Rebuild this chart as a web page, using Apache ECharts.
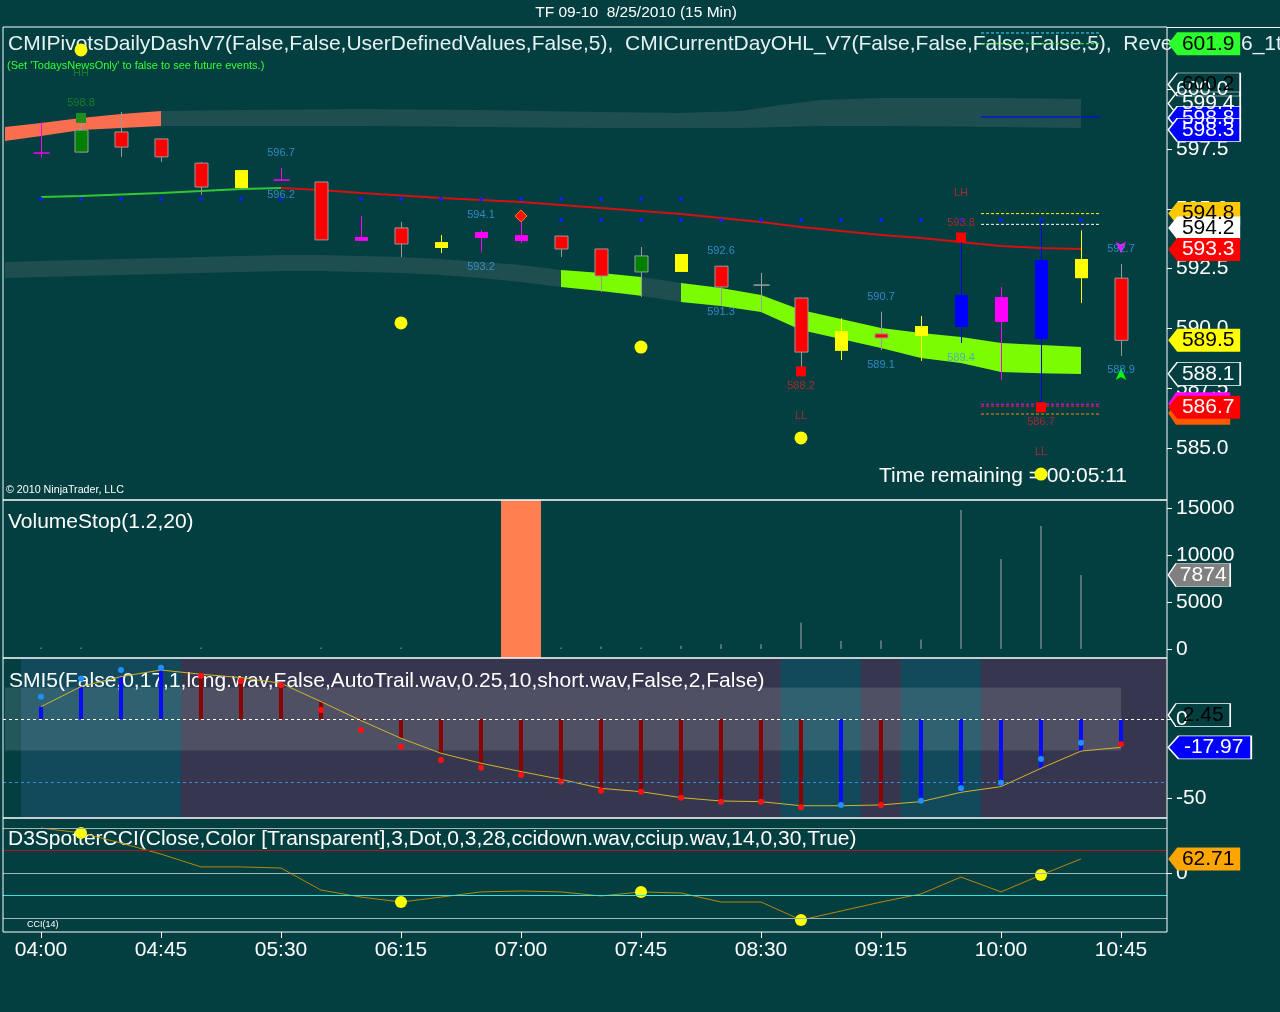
<!DOCTYPE html>
<html>
<head>
<meta charset="utf-8">
<title>TF 09-10 8/25/2010 (15 Min)</title>
<script src="https://cdn.jsdelivr.net/npm/echarts@6.0.0/dist/echarts.min.js"></script>
<style>
  html, body { margin: 0; padding: 0; background: #033f41; }
  #main { width: 1280px; height: 1012px; }
</style>
</head>
<body>
<div id="main"></div>
<script>
// 15 min bars
var times = ['04:00','04:15','04:30','04:45','05:00','05:15','05:30','05:45','06:00','06:15','06:30','06:45','07:00','07:15',
             '07:30','07:45','08:00','08:15','08:30','08:45','09:00','09:15','09:30','09:45','10:00','10:15','10:30','10:45'];
var timeLabelIdx = [0, 3, 6, 9, 12, 15, 18, 21, 24, 27];

// candles
var opens  = [597.33,597.37,598.21,597.92,596.91,596.62,596.20,596.12,593.82,594.20,593.61,594.03,593.90,593.86,
              593.32,592.36,593.11,592.60,591.81,591.27,589.89,589.77,590.10,590.06,591.31,589.56,592.90,592.10];
var highs  = [598.60,598.80,599.05,597.92,596.95,596.62,596.70,596.12,594.70,594.45,593.90,594.10,594.53,593.86,
              593.32,593.40,593.11,592.60,592.32,591.27,590.43,590.70,590.52,593.80,591.73,594.53,594.10,592.69];
var lows   = [597.15,597.35,597.17,596.96,595.58,595.87,596.20,593.70,593.66,592.98,593.15,593.20,593.57,592.98,
              591.52,591.31,592.36,590.95,590.69,588.20,588.68,589.10,588.64,589.39,587.84,586.70,591.06,588.85];
var closes = [597.33,598.29,597.58,597.17,595.91,595.87,596.20,593.70,593.66,593.53,593.36,593.78,593.65,593.32,
              592.19,593.03,592.36,591.73,591.81,589.01,589.06,589.60,589.68,591.40,590.27,592.86,592.10,589.50];
var candleKeys = ['m','g','r','r','r','y','m','r','m','r','y','m','m','r','r','g','y','r','x','r','y','r','y','b','m','b','y','r'];

// moving average line (green then red)
var maLine = [595.49,595.54,595.60,595.66,595.74,595.83,595.87,595.79,595.66,595.56,595.45,595.37,595.28,595.16,
              595.03,594.91,594.78,594.62,594.45,594.24,594.07,593.90,593.78,593.61,593.44,593.36,593.32];
var maGreenEnd = 6;

// upper band (salmon then gray)
var upSalmonX   = [-0.9, 0, 1, 2, 3];
var upSalmonTop = [598.42, 598.59, 598.80, 598.96, 599.09];
var upSalmonBot = [597.83, 598.04, 598.29, 598.38, 598.46];
var upGrayX   = [3, 5, 8, 11, 14, 16, 17.5, 18.5, 19.5, 21, 24, 26];
var upGrayTop = [599.09, 599.13, 599.17, 599.13, 599.05, 599.00, 599.09, 599.34, 599.55, 599.63, 599.63, 599.59];
var upGrayBot = [598.46, 598.46, 598.46, 598.42, 598.38, 598.38, 598.38, 598.42, 598.46, 598.46, 598.42, 598.38];

// lower band (gray with green runs)
var lowX   = [-0.9,0,1,2,3,4,5,6,7,8,9,10,11,12,13,14,15,16,17,18,19,20,21,22,23,24,25,26];
var lowTop = [592.78,592.82,592.86,592.90,592.94,592.98,593.03,593.07,593.07,593.03,592.98,592.90,592.78,592.65,
              592.44,592.32,592.15,591.90,591.69,591.40,590.77,590.39,590.02,589.81,589.64,589.39,589.31,589.22];
var lowBot = [592.11,592.15,592.19,592.23,592.27,592.32,592.36,592.40,592.40,592.36,592.32,592.23,592.11,591.94,
              591.73,591.56,591.36,591.10,590.94,590.69,589.93,589.56,589.18,588.76,588.55,588.18,588.13,588.09];
var greenRuns = [[13, 15], [16, 26]];

// pivot dot rows
var pivotRows = [[0, 16, 595.41], [12, 26, 594.53]];
// swing dots (yellow)
var swingDots = [[1, 601.64], [9, 590.23], [15, 589.22], [19, 585.42], [25, 583.91]];
// swing labels: idx, value, text, side (-1/-2 above, 1/2 below)
var blueLabels = [[6,596.7,'596.7',-1],[6,596.2,'596.2',1],[11,594.1,'594.1',-1],[11,593.2,'593.2',1],
                  [17,592.6,'592.6',-1],[17,591.3,'591.3',1],[21,590.7,'590.7',-1],[21,589.1,'589.1',1],
                  [23,589.4,'589.4',1],[27,592.7,'592.7',-1],[27,588.9,'588.9',1]];
var redLabels = [[19,588.2,'588.2',1],[19,588.2,'LL',2],[23,593.8,'593.8',-1],[23,593.8,'LH',-2],
                 [25,586.7,'586.7',1],[25,586.7,'LL',2]];
var greenLabels = [[1,598.8,'598.8',-1],[1,598.8,'HH',-2]];
var squareMarks = [[1,598.8,'#1e8c1e'],[19,588.2,'#ff0000'],[23,593.8,'#ff0000'],[25,586.7,'#ff0000']];
var diamondMarks = [[12,594.7,'#ff1010']];
var arrowMarks = [[27,593.13,'#ff00ff',180],[27,588.34,'#00ff00',0]];

// current day levels (right side)
var levelX = [23.5, 26.48];
var levelLines = [[602.35,'#40e0ff','dashed'],[601.9,'#33ff33','dashed'],[598.84,'#0000ff','solid'],
                  [594.8,'#ffff00','dashed'],[594.35,'#ffffff','dashed'],[586.83,'#ff00ff','dashed'],
                  [586.75,'#ff2020','dashed'],[586.42,'#ff8c00','dashed']];

// price tags: value, text, fill, text color, border
var priceTags = [[601.9,'601.9','#2cff2c','#000000'],
                 [600.2,'600.2','rgba(0,0,0,0)','#000000','#ffffff'],
                 [599.4,'599.4','rgba(0,0,0,0)','#ffffff','#ffffff'],
                 [598.8,'598.8','#0000ff','#ffffff','#ffffff'],
                 [598.3,'598.3','#0000ff','#ffffff','#ffffff'],
                 [594.8,'594.8','#ffc800','#000000'],
                 [594.2,'594.2','#ffffff','#000000'],
                 [593.3,'593.3','#ff0000','#ffffff'],
                 [589.5,'589.5','#ffff00','#000000'],
                 [588.1,'588.1','#033f41','#ffffff','#ffffff'],
                 [586.45,'','#ff5a00','#000000'],
                 [586.85,'','#ff00ff','#000000'],
                 [586.7,'586.7','#ff0000','#ffffff']];
var priceTicks = [585, 587.5, 590, 592.5, 595, 597.5, 600];

// volume
var volumes = [150,150,0,0,150,0,0,150,0,150,0,0,18000,150,250,150,350,500,500,2800,850,900,1000,14800,9570,13080,7874,0];
var volStopIdx = [12];
var volTags = [[7874,'7874','#808080','#ffffff','#ffffff']];
var volTicks = [0, 5000, 10000, 15000];

// SMI
var smiSignal = [7.8,20.5,26.8,31,28.3,26.2,22.6,11,-1,-12.2,-21.7,-28,-33.3,-38.2,-43.9,-46,-49.8,-51.9,-52.3,
                 -54.9,-54.9,-54.4,-52.3,-46.4,-42.8,-31.2,-20.3,-17.97];
var smiValue = [14.1,25.7,31,32.5,27.4,24,21.5,5.7,-7,-17.5,-26,-30.8,-35.4,-39.7,-45.4,-46,-49.8,-52.3,-52.3,
                -55.9,-54.4,-54.4,-51.7,-43.9,-40.3,-25.3,-15,-16];
var smiBarKeys = ['b','b','b','b','r','r','r','r','r','r','r','r','r','r','r','r','r','r','r','r','b','r','b','b','b','b','b','b'];
var smiDotKeys = ['b','b','b','b','r','r','r','r','r','r','r','r','r','r','r','r','r','r','r','r','b','r','b','b','b','b','b','r'];
var smiZones = ['t','t','t','t','p','p','p','p','p','p','p','p','p','p','p','p','p','p','p','t','t','p','t','t','p','p','p','p'];
var smiBand = [-20, 20];
var smiBandX = [-0.9, 27];
var smiLevels = [[0,'#ffffff'],[-40,'#3a8fd8']];
var smiTags = [[2.45,'2.45','rgba(0,0,0,0)','#000000','#ffffff'],[-17.97,'-17.97','#0000ff','#ffffff','#ffffff']];
var smiTicks = [0, -50];

// CCI
var cci = [200,178,133,84,27,27,22,-76,-107,-129,-107,-84,-80,-84,-102,-84,-89,-129,-129,-209,-169,-129,-93,-18,-84,-9,62.71];
var cciDotIdx = [1, 9, 15, 19, 25];
var cciLevels = [[200,'#a0b4b4'],[100,'#b01818'],[0,'#a0b4b4'],[-100,'#40e0e0'],[-200,'#a0b4b4']];
var cciTags = [[62.71,'62.71','#ffa500','#000000']];
var cciTicks = [0];

// ---------------------------------------------------------------
var FONT = '"Liberation Sans", Arial, sans-serif';
var X_MIN = -0.95, X_MAX = 28.15;
var PRICE_MIN = 582.826, PRICE_MAX = 602.6;
var VOL_MIN = -957, VOL_MAX = 15851;
var SMI_MIN = -62.66, SMI_MAX = 38.6;
var CCI_MIN = -262.2, CCI_MAX = 244.4;
var CANDLE = {m:'#ff00ff', g:'#008000', r:'#ff0000', y:'#ffff00', b:'#0000ff', x:'#a0a0a0'};

var chart = echarts.init(document.getElementById('main'));

function grid(top, height) {
  return {left: 3, width: 1164, top: top, height: height, show: true, borderColor: '#ffffff', borderWidth: 1,
          backgroundColor: 'transparent', z: 10, outerBoundsMode: 'none', containLabel: false};
}
function xAx(gi, show) {
  return {type: 'value', gridIndex: gi, min: X_MIN, max: X_MAX, show: show, position: 'bottom',
    axisLine: {show: false, onZero: false}, splitLine: {show: false},
    axisTick: {show: show, length: 6, lineStyle: {color: '#ffffff'}, customValues: timeLabelIdx},
    axisLabel: {show: show, customValues: timeLabelIdx, color: '#ffffff', fontSize: 21, fontFamily: FONT, margin: 8,
      formatter: function (v) { return times[Math.round(v)]; }}};
}
function yAx(gi, min, max, ticks, dec) {
  return {type: 'value', gridIndex: gi, position: 'right', min: min, max: max,
    axisLine: {show: false, onZero: false}, splitLine: {show: false},
    axisTick: {show: true, length: 5, lineStyle: {color: '#ffffff'}, customValues: ticks},
    axisLabel: {show: true, customValues: ticks, color: '#ffffff', fontSize: 21, fontFamily: FONT, margin: 9,
      formatter: function (v) { return v.toFixed(dec); }}};
}

// filled band between a top and bottom edge
function bandSeries(xs, tops, bots, color) {
  return {type: 'custom', xAxisIndex: 0, yAxisIndex: 0, z: 1, silent: true,
    data: xs.map(function (x, i) { return [x, tops[i], bots[i]]; }),
    encode: {x: 0, y: [1, 2]},
    renderItem: function (params, api) {
      if (params.dataIndex !== 0) return null;
      var up = [], dn = [];
      for (var k = 0; k < xs.length; k++) {
        up.push(api.coord([xs[k], tops[k]]));
        dn.push(api.coord([xs[k], bots[k]]));
      }
      return {type: 'polygon', shape: {points: up.concat(dn.reverse())}, style: {fill: color}};
    }};
}

function tagSeries(gi, tags) {
  return {type: 'scatter', xAxisIndex: gi, yAxisIndex: gi, z: 12, clip: false, silent: true,
    data: tags.map(function (t) {
      var w = Math.max(62, 17 + 11 * t[1].length);
      return {value: [X_MAX + 0.03, t[0]], symbol: 'path://M0,11L9,0L72,0L72,22L9,22Z',
        symbolSize: [w, 23], symbolOffset: ['50%', 0],
        itemStyle: {color: t[2], opacity: 1, borderColor: t[4] || t[2], borderWidth: t[4] ? 1 : 0},
        label: {show: t[1] !== '', formatter: t[1], position: 'inside', offset: [4, 0], color: t[3],
                fontSize: 21, fontFamily: FONT}};
    })};
}

function labelSeries(list, color) {
  return {type: 'scatter', xAxisIndex: 0, yAxisIndex: 0, z: 6, silent: true, symbolSize: 1,
    itemStyle: {color: 'rgba(0,0,0,0)'},
    data: list.map(function (s) {
      var off = (Math.abs(s[3]) === 1 ? 15 : 45) * (s[3] < 0 ? -1 : 1);
      return {value: [s[0], s[1]], label: {show: true, formatter: s[2], position: 'inside', offset: [0, off],
              color: color, fontSize: 11, fontFamily: FONT}};
    })};
}

var series = [];

// ---- price panel
series.push(bandSeries(upSalmonX, upSalmonTop, upSalmonBot, '#fa6e50'));
series.push(bandSeries(upGrayX, upGrayTop, upGrayBot, '#1f4e50'));
series.push(bandSeries(lowX, lowTop, lowBot, '#1f4e50'));
greenRuns.forEach(function (run) {
  var xs = [], ts = [], bs = [];
  lowX.forEach(function (x, k) {
    if (x >= run[0] && x <= run[1]) { xs.push(x); ts.push(lowTop[k]); bs.push(lowBot[k]); }
  });
  series.push(bandSeries(xs, ts, bs, '#7cfc00'));
});

series.push({type: 'line', xAxisIndex: 0, yAxisIndex: 0, z: 2, silent: true, showSymbol: false,
  lineStyle: {color: '#33c633', width: 2},
  data: maLine.slice(0, maGreenEnd + 1).map(function (v, i) { return [i, v]; })});
series.push({type: 'line', xAxisIndex: 0, yAxisIndex: 0, z: 2, silent: true, showSymbol: false,
  lineStyle: {color: '#d41010', width: 2},
  data: maLine.slice(maGreenEnd).map(function (v, i) { return [i + maGreenEnd, v]; })});

var pivotData = [];
pivotRows.forEach(function (r) {
  for (var i = r[0]; i <= r[1]; i++) pivotData.push([i, r[2]]);
});
series.push({type: 'scatter', xAxisIndex: 0, yAxisIndex: 0, z: 3, silent: true, symbolSize: 4,
  itemStyle: {color: '#1a1aff', opacity: 1}, data: pivotData});

levelLines.forEach(function (lv) {
  series.push({type: 'line', xAxisIndex: 0, yAxisIndex: 0, z: 4, silent: true, showSymbol: false,
    lineStyle: {color: lv[1], width: 1, type: lv[2] === 'dashed' ? [3, 2] : 'solid'},
    data: levelX.map(function (x) { return [x, lv[0]]; })});
});

series.push({type: 'custom', xAxisIndex: 0, yAxisIndex: 0, z: 4, silent: true,
  data: opens.map(function (o, i) { return [i, o, highs[i], lows[i], closes[i]]; }),
  encode: {x: 0, y: [1, 2, 3, 4]},
  renderItem: function (params, api) {
    var key = candleKeys[params.dataIndex];
    var fill = CANDLE[key];
    var edge = (key === 'r' || key === 'g') ? '#9a9a9a' : fill;
    var x = api.value(0), o = api.value(1), h = api.value(2), l = api.value(3), c = api.value(4);
    var pH = api.coord([x, h]), pL = api.coord([x, l]), pO = api.coord([x, o]), pC = api.coord([x, c]);
    var cx = Math.round(pH[0]) + 0.5;
    var kids = [{type: 'line', shape: {x1: cx, y1: pH[1], x2: cx, y2: pL[1]}, style: {stroke: edge, lineWidth: 1}}];
    if (Math.abs(o - c) < 0.02) {
      kids.push({type: 'line', shape: {x1: cx - 8, y1: pO[1], x2: cx + 8, y2: pO[1]}, style: {stroke: fill, lineWidth: 1.5}});
    } else {
      var top = Math.min(pO[1], pC[1]);
      kids.push({type: 'rect', shape: {x: cx - 6.5, y: top, width: 13, height: Math.abs(pO[1] - pC[1])},
        style: {fill: fill, stroke: (key === 'r' || key === 'g') ? '#9a9a9a' : null, lineWidth: 1}});
    }
    return {type: 'group', children: kids};
  }});

series.push({type: 'scatter', xAxisIndex: 0, yAxisIndex: 0, z: 5, silent: true, symbolSize: 13,
  itemStyle: {color: '#ffff00', opacity: 1}, data: swingDots});
series.push({type: 'scatter', xAxisIndex: 0, yAxisIndex: 0, z: 5, silent: true, symbol: 'rect', symbolSize: 10,
  data: squareMarks.map(function (m) { return {value: [m[0], m[1]], itemStyle: {color: m[2], opacity: 1}}; })});
series.push({type: 'scatter', xAxisIndex: 0, yAxisIndex: 0, z: 5, silent: true, symbol: 'diamond', symbolSize: 12,
  data: diamondMarks.map(function (m) { return {value: [m[0], m[1]], itemStyle: {color: m[2], opacity: 1, borderColor: '#ff8000', borderWidth: 1}}; })});
series.push({type: 'scatter', xAxisIndex: 0, yAxisIndex: 0, z: 5, silent: true, symbol: 'arrow', symbolSize: [8, 12],
  data: arrowMarks.map(function (m) { return {value: [m[0], m[1]], symbolRotate: m[3], itemStyle: {color: m[2], opacity: 1}}; })});

series.push(labelSeries(blueLabels, '#3d9ce6'));
series.push(labelSeries(redLabels, '#d02030'));
series.push(labelSeries(greenLabels, '#1e8c1e'));
series.push(tagSeries(0, priceTags));

// ---- volume panel
series.push({type: 'custom', xAxisIndex: 1, yAxisIndex: 1, z: 1, silent: true,
  data: volStopIdx.map(function (i) { return [i, volumes[i]]; }),
  renderItem: function (params, api) {
    var i = api.value(0), v = api.value(1);
    var p0 = api.coord([i - 0.5, v]), p1 = api.coord([i + 0.5, VOL_MIN]);
    var cs = params.coordSys;
    var r = echarts.graphic.clipRectByRect({x: p0[0], y: p0[1], width: p1[0] - p0[0], height: p1[1] - p0[1]},
                                           {x: cs.x, y: cs.y, width: cs.width, height: cs.height});
    return r ? {type: 'rect', shape: r, style: {fill: '#ff7f50'}} : null;
  }});
series.push({type: 'bar', xAxisIndex: 1, yAxisIndex: 1, z: 2, silent: true, barWidth: 1,
  itemStyle: {color: '#a8a8a8'},
  data: volumes.map(function (v, i) { return volStopIdx.indexOf(i) >= 0 ? [i, 0] : [i, v]; })});
series.push(tagSeries(1, volTags));

// ---- SMI panel
series.push({type: 'custom', xAxisIndex: 2, yAxisIndex: 2, z: 0, silent: true,
  data: smiZones.map(function (k, i) { return [i, 0]; }),
  renderItem: function (params, api) {
    var i = params.dataIndex;
    var x1 = i === smiZones.length - 1 ? X_MAX : i + 0.5;
    var p0 = api.coord([i - 0.5, SMI_MAX]), p1 = api.coord([x1, SMI_MIN]);
    return {type: 'rect', shape: {x: p0[0], y: p0[1], width: p1[0] - p0[0], height: p1[1] - p0[1]},
      style: {fill: smiZones[i] === 't' ? '#124a5c' : '#36364f'}};
  }});
series.push({type: 'custom', xAxisIndex: 2, yAxisIndex: 2, z: 0, silent: true,
  data: [[smiBandX[0], smiBand[1]]],
  renderItem: function (params, api) {
    var p0 = api.coord([smiBandX[0], smiBand[1]]), p1 = api.coord([smiBandX[1], smiBand[0]]);
    return {type: 'rect', shape: {x: p0[0], y: p0[1], width: p1[0] - p0[0], height: p1[1] - p0[1]},
      style: {fill: 'rgba(255,255,255,0.13)'}};
  }});
series.push({type: 'bar', xAxisIndex: 2, yAxisIndex: 2, z: 2, silent: true, barWidth: 4,
  data: smiSignal.map(function (v, i) {
    return {value: [i, v], itemStyle: {color: smiBarKeys[i] === 'b' ? '#0a0aff' : '#8b0000'}};
  })});
series.push({type: 'line', xAxisIndex: 2, yAxisIndex: 2, z: 3, silent: true, showSymbol: false,
  lineStyle: {color: '#d2b42c', width: 1},
  data: smiSignal.map(function (v, i) { return [i, v]; }),
  markLine: {silent: true, symbol: ['none', 'none'], label: {show: false},
    data: smiLevels.map(function (l) { return {yAxis: l[0], lineStyle: {color: l[1], type: [3, 3], width: 1}}; })}});
series.push({type: 'scatter', xAxisIndex: 2, yAxisIndex: 2, z: 4, silent: true, symbolSize: 6,
  data: smiValue.map(function (v, i) {
    return {value: [i, v], itemStyle: {color: smiDotKeys[i] === 'b' ? '#1e90ff' : '#ff1010', opacity: 1}};
  })});
series.push(tagSeries(2, smiTags));

// ---- CCI panel
series.push({type: 'line', xAxisIndex: 3, yAxisIndex: 3, z: 3, silent: true, showSymbol: false,
  lineStyle: {color: '#b8860b', width: 1},
  data: cci.map(function (v, i) { return [i, v]; }),
  markLine: {silent: true, symbol: ['none', 'none'], label: {show: false},
    data: cciLevels.map(function (l) { return {yAxis: l[0], lineStyle: {color: l[1], type: 'solid', width: 1}}; })}});
series.push({type: 'scatter', xAxisIndex: 3, yAxisIndex: 3, z: 4, silent: true, symbolSize: 12,
  itemStyle: {color: '#ffff00', opacity: 1},
  data: cciDotIdx.map(function (i) { return [i, cci[i]]; })});
series.push(tagSeries(3, cciTags));

function txt(x, y, s, size, color, align) {
  return {type: 'text', x: x, y: y, z: 1, silent: true,
    style: {text: s, fill: color, fontSize: size, fontFamily: FONT, textAlign: align || 'left', textVerticalAlign: 'middle'}};
}

var option = {
  backgroundColor: '#033f41',
  animation: false,
  grid: [grid(27, 473), grid(500, 158), grid(658, 160), grid(818, 114)],
  xAxis: [xAx(0, false), xAx(1, false), xAx(2, false), xAx(3, true)],
  yAxis: [yAx(0, PRICE_MIN, PRICE_MAX, priceTicks, 1), yAx(1, VOL_MIN, VOL_MAX, volTicks, 0),
          yAx(2, SMI_MIN, SMI_MAX, smiTicks, 0), yAx(3, CCI_MIN, CCI_MAX, cciTicks, 0)],
  graphic: [
    {type: 'line', z: 1, silent: true, shape: {x1: 1167, y1: 27.5, x2: 1280, y2: 27.5}, style: {stroke: '#ffffff', lineWidth: 1}},
    txt(636, 13, 'TF 09-10  8/25/2010 (15 Min)', 15.5, '#ffffff', 'center'),
    txt(8, 44, 'CMIPivotsDailyDashV7(False,False,UserDefinedValues,False,5),  CMICurrentDayOHL_V7(False,False,False,False,5),  Reve', 21, '#e6f2f2'),
    txt(1241, 44, '6_1t', 21, '#e6f2f2'),
    txt(7, 66, "(Set 'TodaysNewsOnly' to false to see future events.)", 11, '#33ff33'),
    txt(6, 490, '\u00a9 2010 NinjaTrader, LLC', 10.7, '#ffffff'),
    txt(879, 476, 'Time remaining = 00:05:11', 21, '#ffffff'),
    txt(8, 522, 'VolumeStop(1.2,20)', 21, '#ffffff'),
    txt(9, 681, 'SMI5(False,0,17,1,long.wav,False,AutoTrail.wav,0.25,10,short.wav,False,2,False)', 21, '#ffffff'),
    txt(8, 839, 'D3SpotterCCI(Close,Color [Transparent],3,Dot,0,3,28,ccidown.wav,cciup.wav,14,0,30,True)', 21, '#ffffff'),
    txt(27, 925, 'CCI(14)', 9, '#ffffff')
  ],
  series: series
};

chart.setOption(option);
</script>
</body>
</html>
